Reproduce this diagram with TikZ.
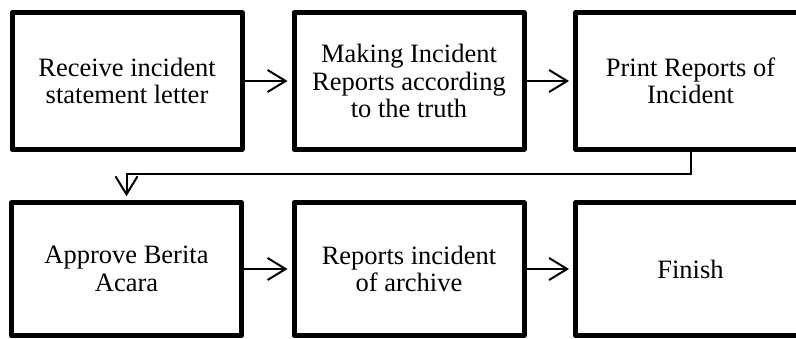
\documentclass[tikz,border=0pt]{standalone}
\usepackage{fontspec}
\setmainfont{Liberation Serif}
\usetikzlibrary{arrows.meta}
\begin{document}
\begin{tikzpicture}[x=1pt,y=-1pt,
  stepbox/.style={draw, line width=5pt, line join=round, minimum width=230pt,
    align=center, inner sep=0pt, font=\fontsize{26.5}{27.5}\selectfont},
  toprow/.style={stepbox, minimum height=136.5pt},
  botrow/.style={stepbox, minimum height=132.5pt},
  flow/.style={line width=2pt, -{Straight Barb[length=18pt,width=22pt]}, shorten >=4pt}]
\useasboundingbox (0,0) rectangle (796,339);
\clip (0,0) rectangle (796,339);
% first row of steps
\node[toprow] (a) at (127,81) {Receive incident\\statement letter};
\node[toprow] (b) at (409,81) {Making Incident\\Reports according\\to the truth};
\node[toprow] (c) at (690.5,81) {Print Reports of\\Incident};
% second row of steps
\node[botrow] (d) at (126.5,269) {Approve Berita\\Acara};
\node[botrow] (e) at (409,269) {Reports incident\\of archive};
\node[botrow] (f) at (690.5,269) {Finish};
% connectors
\draw[flow] (a) -- (b);
\draw[flow] (b) -- (c);
\draw[flow] (c.south) -- ++(0,22) -| (d.north);
\draw[flow] (d) -- (e);
\draw[flow] (e) -- (f);
\end{tikzpicture}
\end{document}
